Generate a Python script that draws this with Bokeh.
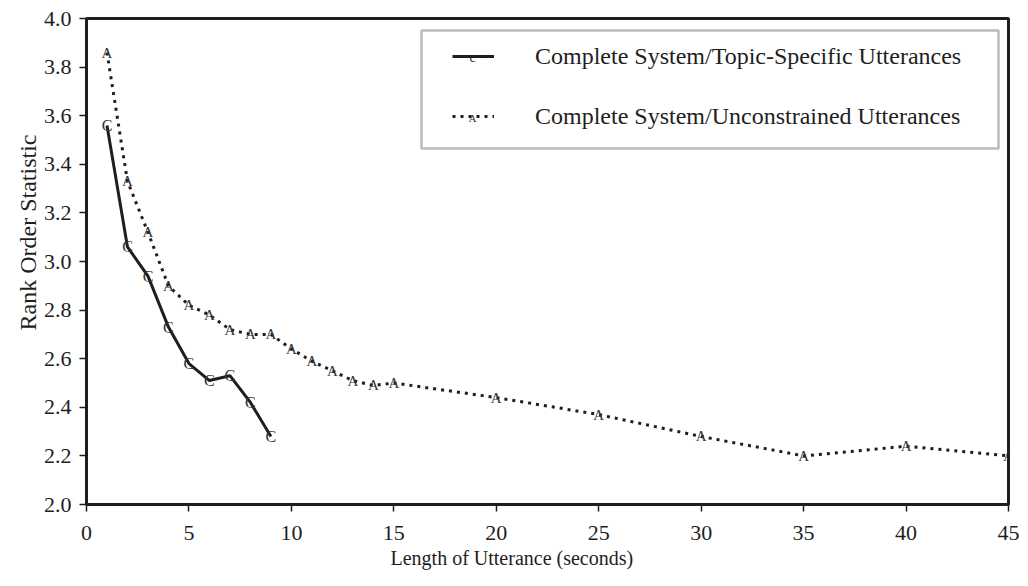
from bokeh.plotting import figure
from bokeh.models import (ColumnDataSource, Legend, LegendItem, FixedTicker, PrintfTickFormatter,
                          Range1d, BoxAnnotation, Label, Title)
from bokeh.core.properties import value
from bokeh.embed import file_html
from bokeh.resources import INLINE

# data
topic_x = [1, 2, 3, 4, 5, 6, 7, 8, 9]
topic_y = [3.56, 3.06, 2.94, 2.73, 2.58, 2.51, 2.53, 2.42, 2.28]
unc_x = [1, 2, 3, 4, 5, 6, 7, 8, 9, 10, 11, 12, 13, 14, 15, 20, 25, 30, 35, 40, 45]
unc_y = [3.86, 3.33, 3.12, 2.90, 2.82, 2.78, 2.72, 2.70, 2.70, 2.64, 2.59, 2.55,
         2.51, 2.49, 2.50, 2.44, 2.37, 2.28, 2.20, 2.24, 2.20]
x_ticks = [0, 5, 10, 15, 20, 25, 30, 35, 40, 45]
y_ticks = [2.0, 2.2, 2.4, 2.6, 2.8, 3.0, 3.2, 3.4, 3.6, 3.8, 4.0]
label_topic = "Complete System/Topic-Specific Utterances"
label_unc = "Complete System/Unconstrained Utterances"
x_title = "Length of Utterance (seconds)"
y_title = "Rank Order Statistic"

SERIF = "Liberation Serif"
INK = "#1e1e1e"

src_t = ColumnDataSource(dict(x=topic_x, y=topic_y, t=["C"] * len(topic_x)))
src_u = ColumnDataSource(dict(x=unc_x, y=unc_y, t=["A"] * len(unc_x)))

p = figure(width=1020, height=578, output_backend="svg", toolbar_location=None,
           x_range=Range1d(0, 45), y_range=Range1d(2.0, 4.0),
           min_border_left=86, min_border_right=12, min_border_top=18, min_border_bottom=74)
p.background_fill_color = "white"
p.border_fill_color = "white"
p.grid.visible = False
p.outline_line_color = INK
p.outline_line_width = 3

for ax in (p.xaxis[0], p.yaxis[0]):
    ax.axis_line_color = INK
    ax.axis_line_width = 3
    ax.major_tick_line_color = INK
    ax.major_tick_line_width = 1.5
    ax.major_tick_out = 7
    ax.major_tick_in = 0
    ax.minor_tick_line_color = None
    ax.major_label_text_font = SERIF
    ax.major_label_text_font_size = "22px"
    ax.major_label_text_color = INK

p.xaxis[0].ticker = FixedTicker(ticks=x_ticks)
p.yaxis[0].ticker = FixedTicker(ticks=y_ticks)
p.yaxis[0].formatter = PrintfTickFormatter(format="%.1f")
p.xaxis[0].major_label_standoff = 14
p.yaxis[0].major_label_standoff = 8

# axis titles (placed off-centre, as in the reference)
p.add_layout(Title(text=x_title, align="left", offset=304, standoff=5,
                   text_font=SERIF, text_font_size="20px", text_font_style="normal",
                   text_color=INK), "below")
p.add_layout(Title(text=y_title, align="left", offset=174, standoff=0,
                   text_font=SERIF, text_font_size="24px", text_font_style="normal",
                   text_color=INK), "left")

l_t = p.line("x", "y", source=src_t, line_color=INK, line_width=3)
m_t = p.text("x", "y", text="t", source=src_t, text_font=value(SERIF), text_font_size="16px",
             text_align="center", text_baseline="middle", text_color="#333333")
l_u = p.line("x", "y", source=src_u, line_color=INK, line_width=3, line_dash="3 5")
m_u = p.text("x", "y", text="t", source=src_u, text_font=value(SERIF), text_font_size="15px",
             text_align="center", text_baseline="middle", text_color="#333333")

# legend frame (screen units relative to plot frame bottom-left)
box = BoxAnnotation(left=335, right=912, top=474, bottom=356,
                    left_units="screen", right_units="screen",
                    top_units="screen", bottom_units="screen",
                    fill_color="white", fill_alpha=1.0,
                    line_color=INK, line_width=2.5)
p.add_layout(box)

legend = Legend(items=[LegendItem(label=label_topic, renderers=[l_t]),
                       LegendItem(label=label_unc, renderers=[l_u])],
                location=(366, 373))
legend.label_text_font = SERIF
legend.label_text_font_size = "24px"
legend.label_text_color = INK
legend.border_line_color = None
legend.background_fill_alpha = 0
legend.glyph_width = 42
legend.glyph_height = 30
legend.label_height = 30
legend.spacing = 30
legend.padding = 10
legend.label_standoff = 41
legend.margin = 0
p.add_layout(legend)

for sy, ch, fs in ((447, "c", "14px"), (387, "A", "11px")):
    p.add_layout(Label(x=386, y=sy, x_units="screen", y_units="screen", text=ch,
                       text_font=SERIF, text_font_size=fs, text_align="center",
                       text_baseline="middle", text_color="#333333"))

open("out.html", "w").write(file_html(p, INLINE))
